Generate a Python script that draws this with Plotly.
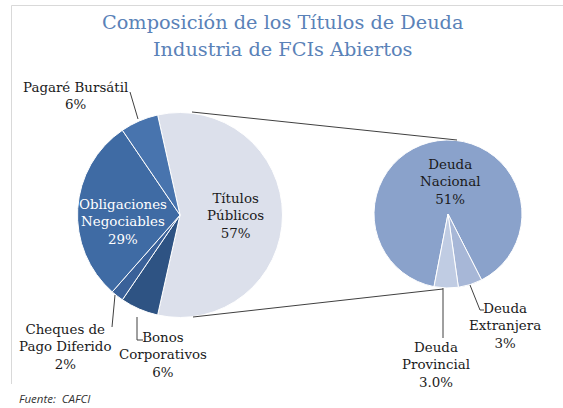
import plotly.graph_objects as go

# ---- data ----
main_labels = ["Títulos Públicos", "Bonos Corporativos", "Cheques de Pago Diferido",
               "Obligaciones Negociables", "Pagaré Bursátil"]
main_values = [57, 6, 2, 29, 6]
main_text = ["Títulos<br>Públicos<br>57%", "Bonos<br>Corporativos<br>6%",
             "Cheques de<br>Pago Diferido<br>2%", "Obligaciones<br>Negociables<br>29%",
             "Pagaré Bursátil<br>6%"]

sub_labels = ["Deuda Nacional", "Deuda Extranjera", "Deuda Provincial"]
sub_values = [51, 3, 3]
sub_text = ["Deuda<br>Nacional<br>51%", "Deuda<br>Extranjera<br>3%", "Deuda<br>Provincial<br>3.0%"]

title_lines = ["Composición de los Títulos de Deuda", "Industria de FCIs Abiertos"]
source_text = "Fuente:  CAFCI"

# ---- style ----
W, H = 563, 408
main_colors = ["#dce0eb", "#2e5383", "#3a6199", "#3f6ba4", "#4874ae"]
sub_colors = ["#8aa2cb", "#a7b7d7", "#c0cce3"]
SERIF = "DejaVu Serif"


def dom(cx, cy, r):
    return dict(x=[(cx - r) / W, (cx + r) / W], y=[1 - (cy + r) / H, 1 - (cy - r) / H])


fig = go.Figure()
fig.add_trace(go.Pie(
    labels=main_labels, values=main_values, sort=False, direction="clockwise",
    rotation=-12.6, textinfo="none", hoverinfo="label+percent",
    marker=dict(colors=main_colors, line=dict(color="white", width=1)),
    domain=dom(180, 215, 102.5), showlegend=False,
))
fig.add_trace(go.Pie(
    labels=sub_labels, values=sub_values, sort=False, direction="clockwise",
    rotation=-169.1, textinfo="none", hoverinfo="label+value",
    marker=dict(colors=sub_colors, line=dict(color="white", width=1)),
    domain=dom(448, 214, 74), showlegend=False,
))

ann = []
def txt(x, y, s, size=13.4, color="#1a1a1a", family=SERIF, xanchor="center", yanchor="middle", italic=False):
    ann.append(dict(x=x, y=y, xref="x", yref="y", text=s, showarrow=False,
                    xanchor=xanchor, yanchor=yanchor,
                    font=dict(family=family, size=size, color=color,
                              style="italic" if italic else "normal")))

# title
txt(282, 22, title_lines[0], size=19.3, color="#5a82b8")
txt(282, 49, title_lines[1], size=19.3, color="#5a82b8")

# left pie labels
txt(235, 216, main_text[0])
txt(163, 355, main_text[1])
txt(65, 347, main_text[2])
txt(123, 222, main_text[3], color="white")
txt(75, 96, main_text[4])
# right pie labels
txt(450, 182, sub_text[0])
txt(505, 326, sub_text[1])
txt(436, 365, sub_text[2])

txt(17, 398, source_text, size=11.5, color="#333333", family="Open Sans", xanchor="left", italic=True)

shapes = []
def line(x0, y0, x1, y1, color="#404040", w=1):
    shapes.append(dict(type="line", xref="x", yref="y", x0=x0, y0=y0, x1=x1, y1=y1,
                       line=dict(color=color, width=w)))

# frame (top and left edges visible)
line(11.5, 5.5, 600, 5.5, color="#d9d9d9")
line(11.5, 5.5, 11.5, 384, color="#d9d9d9")
# connector lines
line(192, 112, 457, 140)
line(193, 317, 443, 289)
# leaders
line(130, 92, 138, 119)
line(112, 327, 115, 295)
line(137, 317, 137, 340); line(137, 340, 143, 340)
line(443, 288, 443, 338)
line(470, 285, 480, 310); line(480, 310, 484, 310)

fig.update_layout(
    width=W, height=H, margin=dict(l=0, r=0, t=0, b=0),
    paper_bgcolor="white", plot_bgcolor="rgba(0,0,0,0)",
    xaxis=dict(range=[0, W], visible=False, fixedrange=True),
    yaxis=dict(range=[H, 0], visible=False, fixedrange=True),
    annotations=ann, shapes=shapes, showlegend=False,
)
fig.write_html("out.html", config={"displayModeBar": False},
               post_script="document.body.style.margin='0px';document.body.style.overflow='hidden';")
